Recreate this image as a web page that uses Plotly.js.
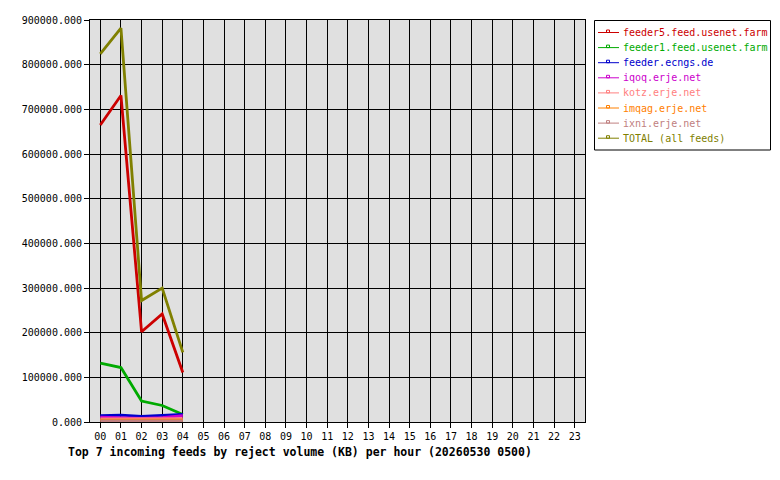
<!DOCTYPE html>
<html>
<head>
<meta charset="utf-8">
<script src="https://cdn.plot.ly/plotly-3.0.1.min.js"></script>
<style>html,body{margin:0;padding:0;background:#fff;}#chart{width:780px;height:480px;}</style>
</head>
<body>
<div id="chart"></div>
<script>
const hours = ['00','01','02','03','04','05','06','07','08','09','10','11','12','13','14','15','16','17','18','19','20','21','22','23'];
const feedNames = ['feeder5.feed.usenet.farm','feeder1.feed.usenet.farm','feeder.ecngs.de','iqoq.erje.net','kotz.erje.net','imqag.erje.net','ixni.erje.net','TOTAL (all feeds)'];
const feedColors = ['#cc0000','#00aa00','#0000cc','#cc00cc','#ff8080','#ff8000','#c08080','#808000'];
const feeder5 = [665000, 731000, 202000, 242000, 111000];
const feeder1 = [132000, 122000, 47000, 37000, 17000];
const ecngs   = [14000, 15500, 12500, 14500, 17000];
const iqoq    = [11000, 9000, 8000, 10000, 14000];
const kotz    = [7000, 7500, 7000, 7000, 7500];
const imqag   = [4000, 4000, 3500, 3500, 4000];
const ixni    = [2500, 2500, 2000, 2000, 2500];
const total   = [824000, 882000, 272000, 300000, 156000];
const series = [feeder5, feeder1, ecngs, iqoq, kotz, imqag, ixni, total];
const yTicks = [0,100000,200000,300000,400000,500000,600000,700000,800000,900000];
const chartTitle = 'Top 7 incoming feeds by reject volume (KB) per hour (20260530 0500)';

const FONT = 'DejaVu Sans Mono, Liberation Mono, monospace';

const traces = series.map((vals, i) => ({
  type: 'scatter', mode: 'lines',
  x: vals.map((v, k) => hours.indexOf(hours[k])),
  y: vals,
  name: feedNames[i],
  line: {color: feedColors[i], width: 2.8},
  showlegend: false, hoverinfo: 'skip'
}));

// manual legend (pixel -> paper helpers)
const L = 90, R = 585, T = 20, B = 422;
const px = x => (x - L) / (R - L);
const py = y => (B - y) / (B - T);
const shapes = [{
  type: 'rect', xref: 'paper', yref: 'paper',
  x0: px(594.5), x1: px(770.5), y0: py(150), y1: py(20.5),
  line: {color: '#000', width: 1}, fillcolor: 'rgba(0,0,0,0)'
}];
const annotations = [];
feedNames.forEach((name, i) => {
  const yc = 32.5 + 15.1 * i;
  shapes.push({type: 'line', xref: 'paper', yref: 'paper',
    x0: px(598), x1: px(619), y0: py(yc), y1: py(yc),
    line: {color: feedColors[i], width: 1}});
  shapes.push({type: 'rect', xref: 'paper', yref: 'paper',
    x0: px(606.5), x1: px(609.5), y0: py(yc), y1: py(yc - 2.5),
    line: {color: feedColors[i], width: 1}, fillcolor: 'rgba(0,0,0,0)'});
  annotations.push({xref: 'paper', yref: 'paper', x: px(621), y: py(yc),
    xanchor: 'left', yanchor: 'middle', showarrow: false, text: name,
    font: {family: FONT, size: 10, color: feedColors[i]}});
});
annotations.push({xref: 'paper', yref: 'paper', x: px(66), y: py(452),
  xanchor: 'left', yanchor: 'middle', showarrow: false,
  text: '<b>' + chartTitle + '</b>',
  font: {family: 'DejaVu Sans Mono', size: 11.5, color: '#000'}});

const layout = {
  width: 780, height: 480,
  margin: {l: L, r: 780 - R, t: T, b: 480 - B, pad: 0},
  paper_bgcolor: '#ffffff', plot_bgcolor: '#e0e0e0',
  showlegend: false,
  font: {family: FONT, size: 10, color: '#000'},
  xaxis: {
    range: [-0.5, 23.5], tickmode: 'array',
    tickvals: hours.map((h, i) => i), ticktext: hours,
    showgrid: true, gridcolor: '#000', gridwidth: 1,
    showline: true, linecolor: '#000', linewidth: 1, mirror: true,
    ticks: 'outside', ticklen: 5, tickcolor: '#000', tickwidth: 1,
    zeroline: false, fixedrange: true,
    tickfont: {family: FONT, size: 10, color: '#000'}
  },
  yaxis: {
    range: [0, 900000], tickmode: 'array', tickvals: yTicks,
    ticktext: yTicks.map(v => v.toFixed(3)),
    showgrid: true, gridcolor: '#000', gridwidth: 1,
    showline: true, linecolor: '#000', linewidth: 1, mirror: true,
    ticks: 'outside', ticklen: 5, tickcolor: '#000', tickwidth: 1,
    zeroline: false, fixedrange: true,
    tickfont: {family: FONT, size: 10, color: '#000'}
  },
  shapes: shapes,
  annotations: annotations
};

Plotly.newPlot('chart', traces, layout, {displayModeBar: false, staticPlot: true});
</script>
</body>
</html>
